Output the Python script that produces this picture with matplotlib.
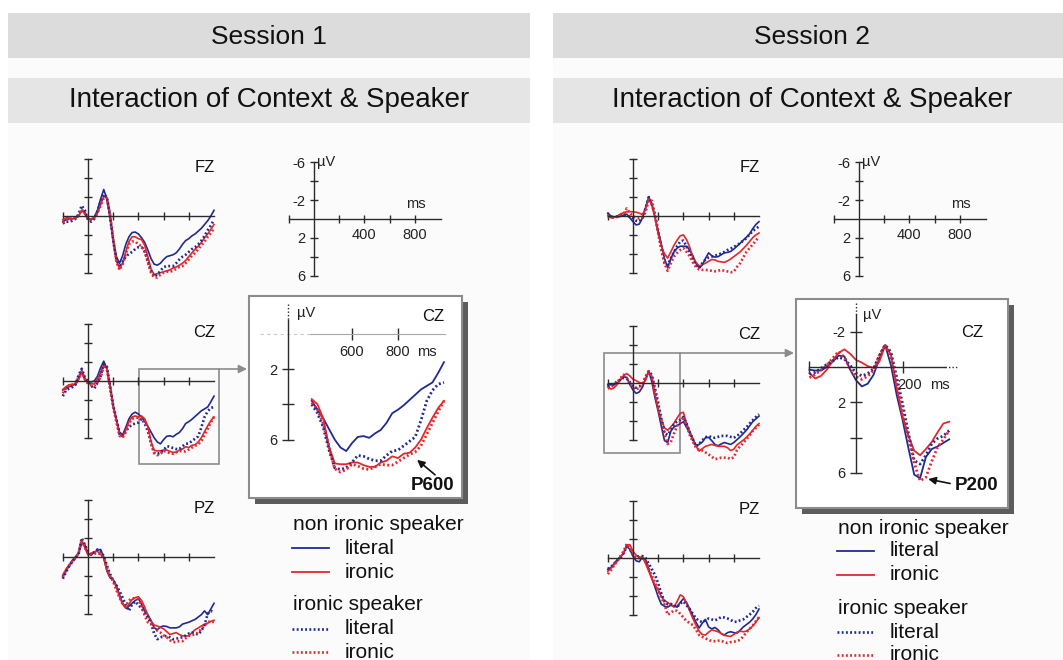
import numpy as np
import matplotlib
matplotlib.use('Agg')
import matplotlib.pyplot as plt
from matplotlib.patches import Rectangle

plt.rcParams['font.family'] = ['Liberation Sans', 'DejaVu Sans']

W, H = 1063, 660
BLUE = '#1f2a92'
RED = '#e5262b'
AX = '#2b2b2b'
FRAME = '#8c8c8c'

# sample times (ms) shared by every waveform
times = np.arange(-200, 1001, 25)

# amplitudes in microvolt, one row of 8 samples per line (-200 .. 1000 ms)
# _lit_n / _iro_n : non ironic speaker, literal / ironic
# _lit_i / _iro_i : ironic speaker, literal / ironic

# ---- Session 1 ----
fz1_lit_n = [0.6, 0.4, 0.3, 0.3, 0.2, 0.0, -0.6, -0.4,
             0.3, 0.4, 0.1, -0.6, -1.8, -2.8, -1.8, 0.2,
             2.5, 4.3, 5.0, 4.2, 3.0, 2.2, 1.75, 1.7,
             1.9, 2.3, 2.8, 3.6, 4.5, 5.1, 5.2, 5.0,
             4.6, 4.3, 4.2, 4.1, 3.9, 3.5, 3.0, 2.6,
             2.4, 2.1, 1.9, 1.6, 1.3, 0.9, 0.5, 0.0,
             -0.6]
fz1_iro_n = [0.4, 0.2, 0.2, 0.3, 0.2, 0.0, -0.6, -0.2,
             0.3, 0.3, 0.2, -0.3, -1.2, -2.1, -1.9, 0.0,
             2.6, 4.7, 5.6, 5.0, 3.8, 2.7, 2.2, 2.2,
             2.4, 2.5, 3.1, 4.3, 5.6, 6.2, 6.1, 6.0,
             5.9, 5.8, 5.7, 5.5, 5.4, 5.2, 5.0, 4.7,
             4.3, 3.9, 3.5, 3.2, 2.8, 2.3, 1.9, 1.4,
             0.9]
fz1_lit_i = [0.8, 0.6, 0.6, 0.5, 0.3, -0.2, -1.1, -0.6,
             0.4, 0.6, 0.3, -0.5, -1.5, -2.3, -2.0, 0.0,
             2.6, 4.6, 5.2, 4.8, 4.3, 4.0, 3.8, 3.5,
             3.3, 3.3, 3.8, 4.8, 5.8, 6.4, 6.2, 5.8,
             5.4, 5.3, 5.3, 5.3, 5.0, 4.6, 4.3, 4.1,
             3.8, 3.5, 3.3, 3.0, 2.6, 2.1, 1.5, 1.0,
             0.4]
fz1_iro_i = [0.7, 0.4, 0.3, 0.3, 0.2, 0.0, -0.7, -0.3,
             0.3, 0.4, 0.2, -0.3, -1.1, -1.9, -1.9, -0.2,
             2.4, 4.8, 5.7, 5.1, 4.0, 3.0, 2.7, 2.7,
             3.0, 3.2, 3.7, 4.9, 6.0, 6.5, 6.5, 6.2,
             6.0, 5.9, 5.9, 5.8, 5.6, 5.4, 5.3, 5.0,
             4.6, 4.2, 3.9, 3.5, 3.1, 2.7, 2.2, 1.8,
             1.3]

cz1_lit_n = [0.95, 0.75, 0.6, 0.5, 0.3, -0.3, -1.1, -0.3,
             0.1, 0.1, 0.0, -0.5, -1.4, -2.1, -1.3, 0.5,
             2.6, 4.1, 5.4, 5.7, 4.9, 4.0, 3.5, 3.3,
             3.5, 3.8, 4.3, 4.8, 5.4, 6.0, 6.45, 6.65,
             6.2, 5.85, 5.8, 5.9, 5.65, 5.45, 5.05, 4.5,
             4.3, 4.05, 3.75, 3.45, 3.15, 2.95, 2.75, 2.2,
             1.6]
cz1_iro_n = [0.9, 0.6, 0.4, 0.35, 0.4, -0.1, -0.9, -0.1,
             0.2, 0.3, 0.3, -0.2, -0.9, -1.7, -1.3, 0.4,
             2.6, 4.0, 5.6, 5.9, 5.2, 4.3, 3.8, 3.7,
             3.8, 3.7, 4.0, 4.8, 6.4, 7.35, 7.4, 7.4,
             7.3, 7.3, 7.45, 7.55, 7.55, 7.3, 7.2, 6.95,
             7.05, 6.8, 6.75, 6.45, 6.0, 5.35, 4.75, 4.2,
             3.8]
cz1_lit_i = [1.6, 1.0, 0.8, 0.65, 0.4, -0.6, -1.3, -0.4,
             0.1, 0.5, 0.8, 0.2, -0.5, -1.8, -1.5, 0.6,
             2.6, 4.0, 5.6, 5.8, 5.3, 4.9, 4.6, 4.5,
             4.4, 4.0, 4.5, 5.3, 6.6, 7.6, 7.7, 7.6,
             7.3, 6.9, 6.95, 7.1, 7.2, 7.2, 6.9, 6.65,
             6.6, 6.35, 6.1, 5.85, 4.9, 3.8, 3.2, 2.85,
             2.75]
cz1_iro_i = [1.3, 0.8, 0.5, 0.4, 0.3, -0.4, -1.0, -0.2,
             0.3, 0.45, 0.5, 0.1, -0.4, -1.5, -1.2, 0.7,
             2.8, 4.3, 5.8, 6.0, 5.4, 4.5, 4.0, 3.9,
             3.9, 3.9, 4.3, 5.1, 6.4, 7.65, 7.85, 7.7,
             7.4, 7.5, 7.65, 7.7, 7.55, 7.4, 7.45, 7.45,
             7.25, 7.05, 6.85, 6.7, 6.35, 5.7, 5.05, 4.4,
             3.8]

pz1_lit_n = [2.1, 1.5, 0.9, 0.35, 0.0, -0.4, -1.5, -1.3,
             -0.4, -0.2, -0.5, -0.7, -0.8, 0.0, 1.5, 2.2,
             2.4, 3.0, 4.0, 4.9, 5.4, 5.2, 4.9, 4.6,
             4.4, 5.0, 5.7, 6.1, 6.7, 7.5, 7.7, 7.4,
             7.3, 7.35, 7.5, 7.5, 7.5, 7.4, 7.1, 7.0,
             6.9, 6.75, 6.6, 6.35, 6.1, 5.7, 6.1, 5.5,
             4.9]
pz1_iro_n = [1.9, 1.3, 0.85, 0.45, 0.1, -0.4, -1.7, -1.0,
             -0.2, -0.4, -0.55, -0.6, -0.3, 0.1, 1.4, 2.0,
             2.4, 3.2, 4.2, 5.0, 5.4, 5.0, 4.5, 4.3,
             4.2, 4.6, 5.3, 6.2, 6.8, 7.2, 7.3, 7.45,
             7.6, 7.9, 8.2, 8.1, 8.0, 8.2, 8.35, 8.35,
             8.35, 8.0, 7.7, 7.5, 7.3, 7.1, 7.0, 6.8,
             6.7]
pz1_lit_i = [2.3, 1.6, 1.0, 0.5, 0.1, -0.3, -2.0, -1.3,
             -0.6, -0.25, -0.5, -0.8, -0.6, -0.1, 0.9, 1.8,
             2.5, 3.0, 3.6, 4.3, 5.1, 5.7, 5.0, 4.7,
             5.1, 5.4, 5.9, 6.4, 7.0, 8.1, 8.7, 8.5,
             8.4, 8.35, 8.5, 8.7, 8.65, 8.55, 8.5, 8.3,
             8.1, 8.0, 8.1, 8.2, 7.8, 7.2, 6.0, 5.7,
             5.9]
pz1_iro_i = [2.1, 1.4, 0.9, 0.5, 0.1, -0.4, -1.8, -1.0,
             -0.4, -0.3, -0.35, -0.4, -0.3, 0.1, 1.1, 2.0,
             2.6, 3.5, 4.3, 5.0, 5.2, 4.6, 4.35, 4.4,
             4.5, 5.2, 6.2, 6.9, 7.1, 7.5, 7.8, 8.0,
             8.3, 8.5, 8.8, 9.0, 9.0, 8.9, 8.9, 8.6,
             8.35, 8.25, 8.2, 8.0, 7.6, 7.3, 6.9, 6.8,
             6.9]

# ---- Session 2 ----
fz2_lit_n = [-0.3, 0.0, 0.1, 0.1, 0.05, -0.1, -0.2, 0.2,
             0.6, 0.95, 0.85, 0.2, -0.9, -2.0, -1.3, 0.1,
             1.6, 3.0, 4.5, 5.5, 4.5, 3.8, 3.4, 3.2,
             3.2, 3.2, 3.6, 4.2, 5.0, 5.5, 5.2, 4.5,
             3.9, 4.2, 4.35, 4.3, 4.1, 3.9, 3.85, 3.75,
             3.5, 3.2, 2.9, 2.55, 2.25, 1.9, 1.35, 0.9,
             0.6]
fz2_iro_n = [-0.1, 0.2, 0.15, 0.0, -0.2, -0.35, -0.45, -0.45,
             -0.45, -0.4, -0.3, -0.15, -0.8, -1.9, -1.1, 0.2,
             1.9, 3.2, 4.0, 4.45, 3.8, 3.1, 2.55, 2.1,
             2.0, 2.5, 3.3, 4.4, 4.9, 5.3, 5.15, 5.0,
             4.8, 4.6, 4.65, 4.8, 4.85, 4.9, 4.75, 4.55,
             4.3, 4.05, 3.8, 3.45, 3.1, 2.7, 2.3, 2.0,
             1.8]
fz2_lit_i = [0.05, 0.1, 0.15, 0.05, -0.1, -0.1, -0.1, 0.1,
             0.25, 0.5, 0.55, 0.3, -0.8, -2.0, -1.2, -0.1,
             1.6, 3.4, 5.0, 5.2, 4.5, 3.8, 3.2, 2.7,
             2.6, 3.2, 3.9, 4.6, 5.2, 5.5, 5.0, 4.6,
             4.4, 4.3, 4.2, 4.1, 3.95, 3.8, 3.6, 3.45,
             3.3, 3.05, 2.9, 2.6, 2.35, 1.95, 1.6, 1.35,
             1.1]
fz2_iro_i = [0.05, 0.1, 0.15, 0.1, -0.05, -0.2, -0.8, -0.3,
             0.0, 0.2, 0.25, 0.1, -0.4, -1.7, -1.6, 0.0,
             1.8, 3.6, 5.0, 5.8, 5.0, 4.3, 3.9, 3.6,
             3.4, 3.8, 4.25, 4.9, 5.4, 5.65, 5.7, 5.7,
             5.75, 5.8, 5.85, 5.8, 5.7, 5.8, 5.86, 5.95,
             5.9, 5.4, 5.0, 4.4, 3.8, 3.4, 3.0, 2.6,
             2.2]

cz2_lit_n = [0.15, 0.2, 0.2, 0.0, -0.3, -0.65, -0.6, 0.15,
             0.75, 1.1, 0.95, 0.45, -0.45, -1.25, -0.1, 1.6,
             3.0, 4.6, 6.1, 6.3, 5.1, 4.65, 4.5, 4.3,
             4.1, 4.7, 5.25, 5.9, 6.6, 6.5, 6.25, 5.8,
             5.75, 6.1, 6.5, 6.65, 6.45, 6.3, 6.4, 6.5,
             6.3, 6.0, 5.7, 5.35, 5.0, 4.55, 4.1, 3.8,
             3.5]
cz2_iro_n = [0.35, 0.65, 0.5, 0.15, -0.35, -0.8, -1.0, -0.75,
             -0.4, -0.25, -0.05, 0.05, -0.3, -1.2, -0.7, 1.2,
             2.8, 3.9, 4.75, 5.0, 4.65, 4.25, 3.7, 3.2,
             3.1, 4.3, 5.1, 5.9, 6.7, 7.2, 6.95, 6.7,
             6.6, 6.5, 6.6, 6.7, 6.7, 6.7, 6.85, 7.15,
             7.0, 6.55, 6.3, 6.05, 5.75, 5.4, 5.0, 4.6,
             4.3]
cz2_lit_i = [0.4, 0.3, 0.07, -0.15, -0.35, -0.55, -0.45, -0.1,
             0.35, 0.5, 0.38, 0.1, -0.65, -1.25, -0.85, 0.6,
             2.1, 3.75, 5.3, 5.5, 5.0, 4.35, 4.05, 3.9,
             3.6, 4.3, 5.2, 6.0, 6.7, 6.45, 6.05, 5.75,
             5.6, 5.75, 5.8, 5.7, 5.6, 5.6, 5.6, 5.7,
             5.8, 5.6, 5.35, 5.0, 4.7, 4.3, 3.95, 3.6,
             3.3]
cz2_iro_i = [0.6, 0.42, 0.17, -0.1, -0.5, -0.88, -0.55, 0.12,
             0.55, 0.7, 0.52, 0.2, -0.65, -1.25, -0.6, 1.0,
             2.6, 4.0, 5.45, 6.45, 6.25, 5.35, 4.55, 4.1,
             3.6, 4.5, 5.5, 6.2, 6.85, 7.1, 7.15, 7.35,
             7.55, 7.8, 8.05, 8.0, 7.9, 7.9, 7.9, 8.05,
             7.85, 7.1, 6.7, 6.35, 5.95, 5.55, 5.1, 4.75,
             4.4]

pz2_lit_n = [1.2, 1.0, 0.6, 0.17, -0.15, -0.5, -1.3, -0.9,
             -0.2, 0.3, 0.4, -0.1, 0.2, 1.2, 2.2, 3.1,
             4.1, 4.9, 5.1, 5.2, 5.0, 5.05, 5.2, 4.7,
             4.3, 4.7, 5.4, 6.1, 6.8, 7.4, 6.9, 6.5,
             7.3, 7.5, 7.35, 7.6, 8.0, 8.15, 7.9, 7.8,
             7.9, 7.95, 7.65, 7.3, 7.05, 6.8, 6.45, 6.0,
             5.4]
pz2_iro_n = [1.4, 1.1, 0.7, 0.35, -0.1, -0.5, -1.4, -1.4,
             -0.7, -0.3, -0.1, -0.1, 0.6, 1.4, 2.2, 2.85,
             3.4, 4.1, 4.5, 4.7, 4.95, 5.2, 4.6, 3.9,
             4.1, 4.8, 5.6, 6.4, 7.1, 7.75, 8.1, 8.15,
             7.85, 7.6, 7.7, 7.8, 8.0, 8.2, 8.25, 8.3,
             8.1, 7.85, 7.75, 7.8, 7.75, 7.5, 7.2, 6.8,
             6.3]
pz2_lit_i = [1.15, 0.95, 0.6, 0.25, 0.0, -0.5, -1.2, -0.9,
             -0.3, 0.0, -0.2, -0.2, 0.0, 0.6, 1.2, 1.8,
             2.7, 3.75, 4.6, 4.9, 4.86, 5.0, 5.2, 4.8,
             4.6, 5.0, 5.4, 5.9, 6.4, 6.65, 6.8, 6.6,
             6.4, 6.5, 6.6, 6.45, 6.25, 6.3, 6.4, 6.55,
             6.75, 6.75, 6.6, 6.5, 6.25, 6.0, 5.7, 5.3,
             5.05]
pz2_iro_i = [1.7, 1.3, 0.8, 0.3, -0.2, -0.7, -1.5, -1.0,
             -0.3, 0.0, 0.0, 0.0, 0.3, 1.1, 1.9, 2.6,
             3.4, 4.2, 4.9, 6.0, 5.8, 5.55, 5.6, 5.9,
             6.3, 6.65, 6.9, 7.1, 7.6, 8.15, 8.35, 8.5,
             8.65, 8.8, 8.8, 8.75, 8.75, 8.9, 9.0, 8.9,
             8.85, 8.8, 8.65, 8.3, 7.85, 7.5, 7.15, 6.7,
             6.25]

COLORS = [BLUE, RED, BLUE, RED]
DOTTED = [False, False, True, True]
DOTS = (0, (0.7, 0.9))

fig = plt.figure(figsize=(W / 100, H / 100), dpi=100)

# full-figure canvas in pixel units for the panel furniture
bg = fig.add_axes([0, 0, 1, 1])
bg.set_xlim(0, W)
bg.set_ylim(H, 0)
bg.axis('off')


def px_axes(x0, y0, sx, sv, tlim, vlim):
    """Axes whose t=0 / v=0 sit at pixel (x0, y0); sx px per ms, sv px per uV."""
    left, right = x0 + tlim[0] * sx, x0 + tlim[1] * sx
    top, bottom = y0 + vlim[0] * sv, y0 + vlim[1] * sv
    ax = fig.add_axes([left / W, 1 - bottom / H, (right - left) / W, (bottom - top) / H])
    ax.set_xlim(tlim)
    ax.set_ylim(vlim[1], vlim[0])   # negative up
    ax.patch.set_visible(False)
    for s in ('top', 'right'):
        ax.spines[s].set_visible(False)
    for s in ('left', 'bottom'):
        ax.spines[s].set_color(AX)
        ax.spines[s].set_linewidth(1.0)
    return ax


def draw_traces(ax, series, keep=None, lw=1.2):
    if keep is None:
        keep = np.ones(len(times), bool)
    for vals, color, dotted in zip(series, COLORS, DOTTED):
        v = np.asarray(vals)
        if dotted:
            ax.plot(times[keep], v[keep], color=color, lw=lw + 0.7, ls=DOTS)
        else:
            ax.plot(times[keep], v[keep], color=color, lw=lw)


def erp_axes(x0, y0, label, series):
    ax = px_axes(x0, y0, 0.126, 9.45, (-230, 1060), (-7, 10.8))
    ax.spines['left'].set_position(('data', 0))
    ax.spines['bottom'].set_position(('data', 0))
    ax.spines['left'].set_bounds(-6, 6)
    ax.spines['bottom'].set_bounds(-200, 1000)
    ax.set_xticks([-200, 200, 400, 600, 800])
    ax.set_yticks([-6, -4, -2, 2, 4, 6])
    ax.tick_params(direction='inout', length=6, width=1, color=AX,
                   labelbottom=False, labelleft=False)
    ax.text(925, -5.1, label, ha='center', va='center', fontsize=12, color='#111')
    draw_traces(ax, series)
    return ax


def scale_axes(x0, y0):
    ax = px_axes(x0, y0, 0.126, 9.45, (-230, 1060), (-7.5, 7.5))
    ax.spines['left'].set_position(('data', 0))
    ax.spines['bottom'].set_position(('data', 0))
    ax.spines['left'].set_bounds(-6, 6)
    ax.spines['bottom'].set_bounds(-200, 1010)
    ax.set_xticks([-200, 200, 400, 600, 800])
    ax.set_xticklabels(['', '', '400', '', '800'])
    ax.set_yticks([-6, -4, -2, 2, 4, 6])
    ax.set_yticklabels(['-6', '', '-2', '2', '', '6'])
    ax.tick_params(direction='inout', length=6, width=1, color=AX,
                   labelsize=10.5, labelcolor='#222')
    ax.text(22, -6, 'µV', ha='left', va='center', fontsize=10.5, color='#222')
    ax.text(808, -1.6, 'ms', ha='center', va='center', fontsize=10.5, color='#222')


def inset_frame(x, y, w, h):
    bg.add_patch(Rectangle((x + 6, y + 6), w, h, fc='#5c5c5c', ec='none'))
    bg.add_patch(Rectangle((x, y), w, h, fc='white', ec=FRAME, lw=1.5))


def zoom_link(x, y, w, h, x_end):
    bg.add_patch(Rectangle((x, y), w, h, fill=False, ec=FRAME, lw=1.2))
    bg.annotate('', xy=(x_end, y), xytext=(x + w, y),
                arrowprops=dict(arrowstyle='-|>', color=FRAME, lw=1.2,
                                mutation_scale=12, shrinkA=0, shrinkB=0))


def legend(x, y):
    bg.text(x, y, 'non ironic speaker', ha='left', va='center', fontsize=15, color='#111')
    bg.text(x, y + 80, 'ironic speaker', ha='left', va='center', fontsize=15, color='#111')
    rows = [(23, BLUE, '-', 'literal'), (47, RED, '-', 'ironic'),
            (104, BLUE, DOTS, 'literal'), (127, RED, DOTS, 'ironic')]
    for dy, color, ls, name in rows:
        lw = 1.3 if ls == '-' else 1.9
        bg.plot([x - 1, x + 36], [y + dy, y + dy], color=color, lw=lw, ls=ls)
        bg.text(x + 52, y + dy, name, ha='left', va='center', fontsize=15, color='#111')


# ---- panel backgrounds and headers ----
for left, width, cx, name in [(8, 522, 269, 'Session 1'), (553, 510, 812, 'Session 2')]:
    bg.add_patch(Rectangle((left, 13), width, H - 13, fc='#fbfbfb', ec='none'))
    bg.add_patch(Rectangle((left, 13), width, 45, fc='#dcdcdc', ec='none'))
    bg.add_patch(Rectangle((left, 78), width, 45, fc='#e5e5e5', ec='none'))
    bg.text(cx, 37, name, ha='center', va='center', fontsize=19, color='#111')
    bg.text(cx, 100, 'Interaction of Context & Speaker', ha='center', va='center',
            fontsize=20, color='#111')

# ---- Session 1 ----
inset_frame(249, 296, 213, 202)
zoom_link(139, 369, 80, 95, 247)
erp_axes(88, 216, 'FZ', [fz1_lit_n, fz1_iro_n, fz1_lit_i, fz1_iro_i])
erp_axes(88, 381, 'CZ', [cz1_lit_n, cz1_iro_n, cz1_lit_i, cz1_iro_i])
erp_axes(88, 557, 'PZ', [pz1_lit_n, pz1_iro_n, pz1_lit_i, pz1_iro_i])
scale_axes(314, 219)
legend(293, 525)

ins1 = px_axes(214, 334, 0.23, 17.6, (150, 1060), (-2.2, 9.6))
ins1.spines['left'].set_position(('data', 322))
ins1.spines['left'].set_bounds(-0.8, 6)
ins1.spines['bottom'].set_position(('data', 0))
ins1.spines['bottom'].set_bounds(417, 1004)
ins1.spines['bottom'].set_color('#a8a8a8')
ins1.spines['bottom'].set_linewidth(0.8)
ins1.set_xticks([600, 800])
ins1.set_xticklabels(['600', '800'])
ins1.set_yticks([2, 4, 6])
ins1.set_yticklabels(['2', '', '6'])
ins1.tick_params(direction='inout', length=9, width=1, color=AX,
                 labelsize=10.5, labelcolor='#222')
ins1.plot([322, 322], [-1.7, -0.8], color=AX, lw=1, ls=(0, (1, 1.5)))
ins1.plot([200, 417], [0, 0], color='#c8c8c8', lw=0.8, ls=(0, (3, 3)))
ins1.text(360, -1.2, 'µV', ha='left', va='center', fontsize=10.5, color='#222')
ins1.text(952, -1.0, 'CZ', ha='center', va='center', fontsize=12, color='#111')
ins1.text(926, 1.05, 'ms', ha='center', va='center', fontsize=10.5, color='#222')
draw_traces(ins1, [cz1_lit_n, cz1_iro_n, cz1_lit_i, cz1_iro_i], keep=times >= 425, lw=1.3)
ins1.text(952, 8.6, 'P600', ha='center', va='center', fontsize=13.5,
          fontweight='bold', color='#111')
ins1.annotate('', xy=(883, 7.15), xytext=(961, 8.0),
              arrowprops=dict(arrowstyle='-|>', color='#111', lw=1.2,
                              mutation_scale=11, shrinkA=0, shrinkB=0))

# ---- Session 2 ----
inset_frame(796, 299, 212, 209)
zoom_link(604, 353, 76, 100, 794)
erp_axes(633, 216, 'FZ', [fz2_lit_n, fz2_iro_n, fz2_lit_i, fz2_iro_i])
erp_axes(633, 383, 'CZ', [cz2_lit_n, cz2_iro_n, cz2_lit_i, cz2_iro_i])
erp_axes(633, 558, 'PZ', [pz2_lit_n, pz2_iro_n, pz2_lit_i, pz2_iro_i])
scale_axes(859, 219)
legend(838, 528)

ins2 = px_axes(856, 367, 0.233, 17.65, (-240, 620), (-3.9, 7.8))
ins2.spines['left'].set_position(('data', 0))
ins2.spines['left'].set_bounds(-3.0, 6)
ins2.spines['bottom'].set_position(('data', 0))
ins2.spines['bottom'].set_bounds(-200, 382)
ins2.set_xticks([-200, 200])
ins2.set_xticklabels(['', ''])
ins2.set_yticks([-2, 2, 4, 6])
ins2.set_yticklabels(['-2', '2', '', '6'])
ins2.tick_params(direction='inout', length=9, width=1, color=AX,
                 labelsize=10.5, labelcolor='#222')
ins2.plot([0, 0], [-3.6, -3.0], color=AX, lw=1, ls=(0, (1, 1.5)))
ins2.plot([382, 435], [0, 0], color=AX, lw=1, ls=(0, (1, 1.5)))
ins2.text(176, 1.0, '200', ha='left', va='center', fontsize=10.5, color='#222')
ins2.text(360, 1.0, 'ms', ha='center', va='center', fontsize=10.5, color='#222')
ins2.text(30, -2.95, 'µV', ha='left', va='center', fontsize=10.5, color='#222')
ins2.text(498, -1.93, 'CZ', ha='center', va='center', fontsize=12, color='#111')
draw_traces(ins2, [cz2_lit_n, cz2_iro_n, cz2_lit_i, cz2_iro_i], keep=times <= 400, lw=1.3)
ins2.text(517, 6.7, 'P200', ha='center', va='center', fontsize=13.5,
          fontweight='bold', color='#111')
ins2.annotate('', xy=(310, 6.35), xytext=(404, 6.6),
              arrowprops=dict(arrowstyle='-|>', color='#111', lw=1.2,
                              mutation_scale=11, shrinkA=0, shrinkB=0))

fig.savefig('out.png', dpi=100)
